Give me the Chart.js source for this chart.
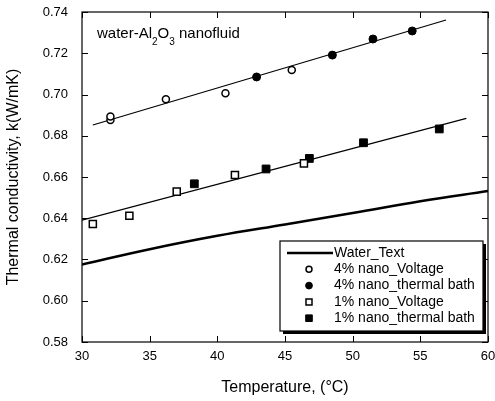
<!DOCTYPE html>
<html>
<head>
<meta charset="utf-8">
<script src="https://cdn.jsdelivr.net/npm/chart.js@4.4.0/dist/chart.umd.min.js"></script>
<style>
  body { margin: 0; background: #fff; }
</style>
</head>
<body>
<canvas id="chart" width="495" height="401"></canvas>
<script>
// data
const waterT = [30, 35, 40, 45, 50, 55, 60];
const waterK = [0.6176, 0.6250, 0.6315, 0.6370, 0.6425, 0.6482, 0.6532];

const volt4T = [32.1, 32.1, 36.2, 40.6, 45.5];
const volt4K = [0.6876, 0.6893, 0.6977, 0.7006, 0.7119];
const bath4T = [42.9, 48.5, 51.5, 54.4];
const bath4K = [0.7085, 0.7191, 0.7269, 0.7308];

const volt1T = [30.8, 33.5, 37.0, 41.3, 46.4];
const volt1K = [0.6372, 0.6412, 0.6529, 0.6610, 0.6666];
const bath1T = [38.3, 43.6, 46.8, 50.8, 56.4];
const bath1K = [0.6567, 0.6639, 0.6690, 0.6766, 0.6833];

// linear fits drawn through each group
const fit4T = [30.8, 56.9];
const fit4K = [0.6852, 0.7361];
const fit1T = [30.0, 58.4];
const fit1K = [0.6391, 0.6884];

const xTicks = [30, 35, 40, 45, 50, 55, 60];
const yTicks = [0.58, 0.60, 0.62, 0.64, 0.66, 0.68, 0.70, 0.72, 0.74];

const pts = (xs, ys) => xs.map((x, i) => ({ x: x, y: ys[i] }));
const FONT = "Arial, 'Liberation Sans', sans-serif";

const datasets = [
  { label: "Water_Text", data: pts(waterT, waterK), showLine: true, borderColor: "#000",
    borderWidth: 2.5, pointRadius: 0, tension: 0.4, legendKind: "line" },
  { label: "4% nano_Voltage", data: pts(volt4T, volt4K), pointStyle: "circle", pointRadius: 3.5,
    backgroundColor: "#fff", borderColor: "#000", borderWidth: 1.5, legendKind: "point" },
  { label: "4% nano_thermal bath", data: pts(bath4T, bath4K), pointStyle: "circle", pointRadius: 4,
    backgroundColor: "#000", borderColor: "#000", borderWidth: 1, legendKind: "point" },
  { label: "1% nano_Voltage", data: pts(volt1T, volt1K), pointStyle: "rect", pointRadius: 5,
    backgroundColor: "#fff", borderColor: "#000", borderWidth: 1.5, legendKind: "point" },
  { label: "1% nano_thermal bath", data: pts(bath1T, bath1K), pointStyle: "rect", pointRadius: 5.5,
    backgroundColor: "#000", borderColor: "#000", borderWidth: 1, legendKind: "point" },
  { label: "fit4", data: pts(fit4T, fit4K), showLine: true, borderColor: "#000",
    borderWidth: 1.2, pointRadius: 0 },
  { label: "fit1", data: pts(fit1T, fit1K), showLine: true, borderColor: "#000",
    borderWidth: 1.2, pointRadius: 0 }
];

// frame with inward ticks on all four sides
const framePlugin = {
  id: "frame",
  afterDraw(chart) {
    const { ctx, chartArea: a, scales } = chart;
    ctx.save();
    ctx.strokeStyle = "#000";
    ctx.lineWidth = 1.2;
    ctx.strokeRect(a.left, a.top, a.right - a.left, a.bottom - a.top);
    ctx.lineWidth = 1;
    ctx.beginPath();
    xTicks.forEach(v => {
      const x = Math.round(scales.x.getPixelForValue(v)) + 0.5;
      ctx.moveTo(x, a.bottom); ctx.lineTo(x, a.bottom - 6);
      ctx.moveTo(x, a.top); ctx.lineTo(x, a.top + 6);
    });
    yTicks.forEach(v => {
      const y = Math.round(scales.y.getPixelForValue(v)) + 0.5;
      ctx.moveTo(a.left, y); ctx.lineTo(a.left + 6, y);
      ctx.moveTo(a.right, y); ctx.lineTo(a.right - 6, y);
    });
    ctx.stroke();

    // label in the top left corner
    ctx.fillStyle = "#000";
    ctx.textBaseline = "alphabetic";
    let x = a.left + 15, y = a.top + 26;
    const parts = [["water-Al", 15, 0], ["2", 10, 7], ["O", 15, 0], ["3", 10, 7], [" nanofluid", 15, 0]];
    parts.forEach(([t, s, dy]) => {
      ctx.font = s + "px " + FONT;
      ctx.fillText(t, x, y + dy);
      x += ctx.measureText(t).width;
    });
    ctx.restore();
  }
};

// boxed legend inside the plot, lower right
const legendPlugin = {
  id: "boxLegend",
  afterDraw(chart) {
    const { ctx } = chart;
    const bx = 280, by = 241, bw = 203, bh = 90;
    ctx.save();
    ctx.fillStyle = "#000";
    ctx.fillRect(bx + 3, by + 3, bw, bh);
    ctx.fillStyle = "#fff";
    ctx.fillRect(bx, by, bw, bh);
    ctx.strokeStyle = "#000";
    ctx.lineWidth = 1.2;
    ctx.strokeRect(bx, by, bw, bh);
    ctx.font = "14px " + FONT;
    ctx.textBaseline = "middle";
    let row = by + 12;
    chart.data.datasets.filter(d => d.legendKind).forEach(d => {
      if (d.legendKind === "line") {
        ctx.strokeStyle = d.borderColor;
        ctx.lineWidth = d.borderWidth;
        ctx.beginPath();
        ctx.moveTo(bx + 7, row); ctx.lineTo(bx + 53, row);
        ctx.stroke();
      } else {
        ctx.fillStyle = d.backgroundColor;
        ctx.strokeStyle = d.borderColor;
        ctx.lineWidth = d.borderWidth;
        ctx.beginPath();
        if (d.pointStyle === "circle") {
          ctx.arc(bx + 29, row, d.pointRadius * 0.85, 0, Math.PI * 2);
        } else {
          const h = d.pointRadius * 0.85 * Math.SQRT1_2;
          ctx.rect(bx + 29 - h, row - h, 2 * h, 2 * h);
        }
        ctx.fill(); ctx.stroke();
      }
      ctx.fillStyle = "#000";
      ctx.fillText(d.label, bx + 54, row);
      row += 16.3;
    });
    ctx.restore();
  }
};

new Chart(document.getElementById("chart"), {
  type: "scatter",
  data: { datasets: datasets },
  options: {
    responsive: false,
    animation: false,
    devicePixelRatio: 1,
    layout: { padding: { top: 12, right: 7, left: 0, bottom: 0 } },
    plugins: { legend: { display: false }, tooltip: { enabled: false } },
    scales: {
      x: {
        type: "linear", min: 30, max: 60,
        afterBuildTicks: s => { s.ticks = xTicks.map(v => ({ value: v })); },
        afterFit: s => { s.height = 59; s.paddingLeft = 0; s.paddingRight = 0; },
        grid: { display: false, drawTicks: false },
        border: { display: false },
        ticks: { color: "#000", font: { size: 13, family: FONT }, padding: 7 },
        title: { display: true, text: "Temperature, (°C)", color: "#000",
                 font: { size: 16, family: FONT }, padding: { top: 8 } }
      },
      y: {
        type: "linear", min: 0.58, max: 0.74,
        afterBuildTicks: s => { s.ticks = yTicks.map(v => ({ value: v })); },
        afterFit: s => { s.width = 82; s.paddingTop = 0; s.paddingBottom = 0; },
        grid: { display: false, drawTicks: false },
        border: { display: false },
        ticks: { color: "#000", font: { size: 13, family: FONT }, padding: 14,
                 callback: v => v.toFixed(2) },
        title: { display: true, text: "Thermal conductivity, k(W/mK)", color: "#000",
                 font: { size: 16, family: FONT }, padding: { top: 4, bottom: 2 } }
      }
    }
  },
  plugins: [framePlugin, legendPlugin]
});
</script>
</body>
</html>
